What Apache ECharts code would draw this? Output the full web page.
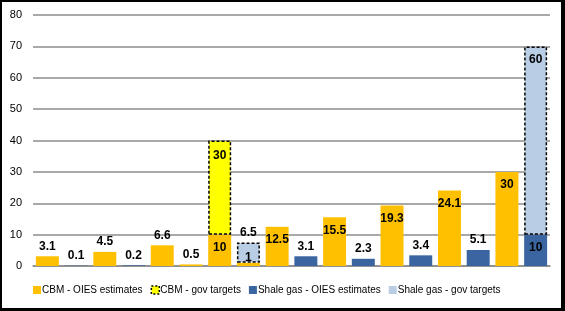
<!DOCTYPE html>
<html><head><meta charset="utf-8">
<script src="https://cdn.jsdelivr.net/npm/echarts@6/dist/echarts.min.js"></script>
<style>
html,body{margin:0;padding:0;background:#fff;}
#c{position:absolute;left:0;top:0;width:565px;height:311px;}
#frame{position:absolute;left:0;top:0;width:565px;height:311px;box-sizing:border-box;border-style:solid;border-color:#000;border-width:2px 4px 3px 2px;pointer-events:none;}
</style></head><body>
<div id="c"></div><div id="frame"></div>
<script>
const categories = ['1','2','3','4','5','6','7','8','9','10','11','12','13','14','15','16','17','18'];
const cbmOies   = [3.1, null, 4.5, null, 6.6, 0.5, 10, 1, 12.5, null, 15.5, null, 19.3, null, 24.1, null, 30, null];
const cbmGov    = [null, null, null, null, null, null, 30, null, null, null, null, null, null, null, null, null, null, null];
const shaleOies = [null, 0.1, null, 0.2, null, null, null, null, null, 3.1, null, 2.3, null, 3.4, null, 5.1, null, 10];
const shaleGov  = [null, null, null, null, null, null, null, 6.5, null, null, null, null, null, null, null, null, null, 60];
const yTicks = [0, 80, 10];
const seriesNames = ['CBM - OIES estimates','CBM - gov targets','Shale gas - OIES estimates','Shale gas - gov targets'];

const FONT = '"Liberation Sans", Arial, Helvetica, sans-serif';
const lbl = {show:true, color:'#000', fontFamily:FONT, fontSize:12, fontWeight:'bold'};

function items(arr, rule){
  return arr.map((v,i)=>{
    if(v==null) return null;
    const pos = rule(v,i);
    return {value:v, label:Object.assign({}, lbl, pos)};
  });
}
const orangeRule = (v,i)=> i===7 ? {position:'top', distance:-1} : (v>=10 ? {position:'insideTop', distance:7} : {position:'top', distance:4});
const blueRule = (v)=> v>=10 ? {position:'insideTop', distance:7} : {position:'top', distance:4};
const yellowRule = ()=>({position:'insideTop', distance:9});
const lightRule = (v)=> v>=10 ? {position:'insideTop', distance:7} : {position:'top', distance:4};

const chart = echarts.init(document.getElementById('c'), null, {renderer:'canvas'});
chart.setOption({
  animation:false,
  grid:{left:33, right:15, top:15, bottom:45},
  legend:{
    left:33, top:285, padding:0, itemWidth:8, itemHeight:8, itemGap:8, icon:'rect',
    textStyle:{fontFamily:FONT, fontSize:10, color:'#000', padding:[0,0,0,-4]},
    data:[
      {name:seriesNames[0]},
      {name:seriesNames[1], itemStyle:{color:'#FFFF00', borderColor:'#000', borderWidth:1.5, borderType:[2,2]}},
      {name:seriesNames[2]},
      {name:seriesNames[3], itemStyle:{color:'#B9CDE5', borderWidth:0}}
    ]
  },
  xAxis:{type:'category', data:categories, axisLabel:{show:false}, axisTick:{show:false},
    axisLine:{lineStyle:{color:'#8c8c8c', width:1.5}}},
  yAxis:{type:'value', min:yTicks[0], max:yTicks[1], interval:yTicks[2],
    axisLabel:{fontFamily:FONT, fontSize:11, color:'#000', margin:11},
    splitLine:{lineStyle:{color:'#8c8c8c', width:1.5}},
    axisLine:{show:false}, axisTick:{show:false}},
  series:[
    {name:seriesNames[0], type:'bar', stack:'a', barWidth:'80%', data:items(cbmOies, orangeRule),
      itemStyle:{color:'#FFC000'}},
    {name:seriesNames[1], type:'bar', stack:'a', data:items(cbmGov, yellowRule),
      itemStyle:{color:'#FFFF00', borderColor:'#000', borderWidth:1.5, borderType:[3,2]}},
    {name:seriesNames[2], type:'bar', stack:'a', data:items(shaleOies, blueRule),
      itemStyle:{color:'#3A65A0'}},
    {name:seriesNames[3], type:'bar', stack:'a', data:items(shaleGov, lightRule),
      itemStyle:{color:'#B9CDE5', borderColor:'#000', borderWidth:1.5, borderType:[3,2]}}
  ]
});
</script></body></html>
